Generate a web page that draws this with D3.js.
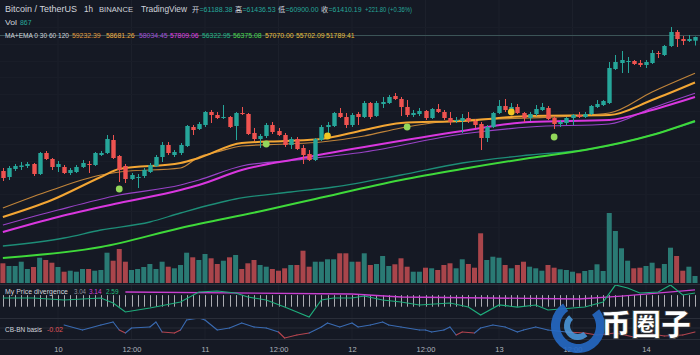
<!DOCTYPE html>
<html><head><meta charset="utf-8">
<script src="https://cdn.jsdelivr.net/npm/d3@7"></script>
<style>html,body{margin:0;padding:0;background:#151924;overflow:hidden}svg{display:block}</style>
</head><body><svg id="c" width="700" height="355"></svg>
<script>
// ---------- DATA ----------
const timeLabels = ["10","12:00","11","12:00","12","12:00","13","12:00","14"];
const timeLabelIdx = [9,21,33,45,57,69,81,93,105];

const opens = [53370,53010,53490,53610,53670,53790,53190,54450,54090,53610,53610,53250,53310,53610,53790,53730,54330,54450,55230,54270,53670,52890,52950,53070,53310,53670,54210,54930,54330,54450,54870,56010,55890,56130,56910,56730,56550,56610,56070,56850,56790,55650,55290,55470,56130,55770,55530,54930,55290,54750,54390,54030,55230,56010,56070,56850,56610,56130,56790,56610,57450,56670,57390,57450,57870,57690,57210,56730,56790,56970,56550,57090,56910,56550,56370,56370,56550,56370,56190,55350,56010,56850,57270,57030,57210,56850,56550,56790,57030,57150,56550,56190,56250,56550,56730,56610,56790,57210,57330,57450,59490,59850,59910,59970,59850,59730,59850,60450,60330,60870,61710,61290,61170,61188.38];
const highs = [53550,53670,53790,53910,53910,53850,54510,54570,54150,53970,53730,53550,53730,54030,53970,54510,54570,55530,55530,54330,53790,53250,53190,53550,53850,54330,55110,55110,54630,55050,56130,56130,56310,56970,57030,56910,57330,56670,56910,57210,56850,55950,55590,56250,56310,55950,55650,55410,55410,54930,54630,55350,56130,56310,56910,57150,56850,56850,56910,57570,57510,57570,57810,57930,58050,57810,57630,57030,57150,57030,57150,57390,57030,56910,56610,56790,56910,56490,56310,56130,56910,57630,57690,57450,57390,56910,56910,57330,57450,57270,56670,56430,56610,56790,56910,56910,57330,57630,57630,59910,60330,60570,60210,60030,60030,60030,60630,60570,60930,62010,61830,61470,61530,61436.53];
const lows = [52770,52830,53370,53430,53550,53070,53130,54030,53430,53310,53190,53130,53250,53550,53250,53670,54270,54390,54090,52710,52650,52830,52350,52950,53250,53610,53910,54330,54210,54330,54810,55530,55830,56010,56250,56490,56490,55950,55230,56730,55530,55170,54750,55350,55590,55470,54810,54690,54630,53790,53970,53970,55170,55530,56010,56550,55950,56010,56130,56550,56490,56610,57150,57390,57630,56670,56610,56610,56670,56430,56490,56850,56430,56130,56250,55650,56250,55950,54630,55110,55950,56790,56910,56850,56790,56310,56370,56670,56970,56430,55890,56010,56130,56130,56550,56550,56730,57150,57270,57390,59430,59250,59250,59730,59610,59550,59790,60150,60270,60810,60810,60930,61110,60900];
const closes = [52950,53550,53670,53700,53790,53190,54450,54090,53610,53790,53250,53430,53610,53850,53730,54450,54450,55290,54150,53430,52890,53130,53010,53430,53730,54210,54930,54450,54510,54930,56070,55830,56190,56910,56730,56550,56610,56010,56850,56790,55590,55290,55470,56130,55710,55530,54930,55290,54690,54330,54030,55290,56010,56130,56850,56610,56130,56730,56610,57450,56610,57450,57510,57810,57690,57210,56730,56850,56970,56550,57090,56910,56550,56310,56430,56550,56370,56130,55350,56010,56850,57270,57030,57210,56850,56550,56790,57090,57210,56490,56190,56310,56550,56730,56610,56790,57270,57390,57570,59550,59910,60030,59970,59790,59730,59910,60450,60390,60870,61710,61290,61170,61290,61410.19];
const volumes = [2443,2108,2108,2641,1736,1984,3137,2852,2517,1984,1401,1525,1401,1736,1736,1525,1612,3757,2765,4216,2641,1612,1736,1984,2356,1736,2641,2021,1823,2232,3757,3187,2852,3596,3063,2356,2765,3187,3472,1736,2443,2852,2232,2021,1736,1525,1823,2232,2232,4005,2021,2641,2641,2939,2939,3683,3683,2641,2641,3683,2232,2356,3348,2108,2319,3063,2021,1401,1401,1897,1823,1612,2232,2443,1823,2939,2356,1897,6163,2852,3261,3137,2232,1823,2232,2641,2021,1823,1525,2232,1897,1699,1612,1401,1203,1488,1612,2319,1488,8680,6448,4303,2765,1823,1897,2108,2517,1823,2356,4377,3348,1525,2021,867];

// moving-average lines (sampled at candle indices)
const emaFastIdx = [0,8,16,19,29,32,35,39,46,52,59,65,75,86,99,106,113];
const emaFastVal = [51150,52230,53130,53310,53550,54210,54510,54870,54990,55110,55470,55950,56430,56550,56850,58110,59232.39];
const maFastIdx = [0,8,16,19,29,32,39,46,52,59,65,75,86,99,106,113];
const maFastVal = [50610,51630,53010,53490,53850,54150,55050,55170,55290,55830,56250,56370,56670,56730,57630,58681.26];
const emaMidIdx = [0,9,19,29,32,39,48,59,75,86,99,106,113];
const emaMidVal = [50130,51030,51930,52530,52830,53670,54030,54510,55590,56010,56190,57150,58034.45];
const maMidIdx = [0,9,19,29,32,39,48,59,75,86,99,106,113];
const maMidVal = [49710,50610,51450,52230,52530,53430,54090,54810,55770,56310,56430,57030,57809.06];
const emaSlowIdx = [0,10,16,24,29,38,47,54,65,75,86,95,113];
const emaSlowVal = [48870,49350,49830,50310,50850,51690,52110,52410,53130,53850,54330,54630,56322.95];
const maSlowIdx = [0,16,29,43,51,65,75,86,95,106,113];
const maSlowVal = [48150,48810,49950,51030,51690,52830,53490,54150,54630,55530,56375.08];

const greenDotIdx = [19,43,66,90];
const greenDotPrice = [52290,54990,56010,55410];
const yellowDotIdx = [53,83];
const yellowDotPrice = [55470,56910];

// My Price divergence
const divIdx = [0,5,10,16,18,20,24,29,32,35,38,40,43,46,48,50,52,54,57,59,62,65,68,73,76,78,81,84,87,89,95,98,100,102,104,107,109,111,113];
const divVal = [1.68,1.68,1.32,1.68,0.77,-0.86,-0.14,0.95,2.77,2.95,2.59,1.86,1.32,0.04,-0.86,-1.77,1.32,1.68,1.68,2.04,1.32,0.95,0.41,0.77,0.04,-1.41,0.41,0.04,0.41,-0.50,0.04,0.95,4.04,3.50,2.59,2.77,4.04,2.23,2.59];
const divSigIdx = [20,57,65,94,101,113];
const divSigVal = [2.77,2.41,1.86,1.50,2.04,3.14];
const divBarRange = [0.1,2.2];

// CB-BN basis
const basisIdx = [10,13,16,18,19,20,21,24,25,26,28,29,30,32,33,35,37,39,41,43,45,46,48,50,52,53,55,57,58,60,62,63,65,68,69,70,72,73,74,75,77,78,80,82,84,85,87,89,92,95,97,100,103,106,108,111,113];
const basisVal = [0.12,0.02,0.12,0.18,0.02,-0.04,0.06,0.08,0.18,-0.02,-0.04,0.02,0.22,0.26,0.22,0.02,0.06,0.16,0.08,0.06,-0.02,-0.14,-0.08,-0.04,0.08,0.16,0.08,0.16,0.08,0.12,0.18,0.12,0.08,0.02,0.02,-0.02,0.02,0.08,-0.08,-0.02,-0.04,0.06,0.12,0.08,-0.02,0.02,0.08,0.02,-0.02,-0.04,-0.08,-0.04,-0.12,-0.06,-0.10,-0.08,-0.02];

const maLegendVals = ["59232.39","58681.26","58034.45","57809.06","56322.95","56375.08","57070.00","55702.09","51789.41"];
const maLegendColors = ["#e39a3b","#f2ad3f","#a34fd8","#e03ee2","#22b584","#4cd94c","#efbf38","#e8be3a","#e8be3a"];
const maLegendX = [72,106,139,170,202,233,265,296,326];

// ---------- DRAW ----------
const W = 700, H = 355;
const BG = "#151924", UP = "#26a69a", DOWN = "#ef5350";
const FONT = "'Liberation Sans', Arial, 'Noto Sans CJK SC', sans-serif";
const svg = d3.select("#c");
svg.append("rect").attr("width", W).attr("height", H).attr("fill", BG);

const N = opens.length;
const idx = d3.range(N);
const x = d3.scaleLinear().domain([9, 105]).range([58, 646]);
const y = d3.scaleLinear().domain([63630, 49230]).range([0, 240]);
const yVol = d3.scaleLinear().domain([0, 8680]).range([283, 213]);
const yDiv = d3.scaleLinear().domain([0, 4]).range([307.245, 285.245]);
const yBas = d3.scaleLinear().domain([-0.2, 0.3]).range([341, 316]);

const defs = svg.append("defs");
function clip(id, y0, y1) {
  defs.append("clipPath").attr("id", id).append("rect").attr("x", 0).attr("y", y0).attr("width", W).attr("height", y1 - y0);
}
clip("cMain", 0, 284); clip("cDiv", 285, 318); clip("cBas", 319, 339);

// grid
const grid = svg.append("g");
grid.selectAll("line.v").data(timeLabelIdx).join("line")
  .attr("x1", d => x(d)).attr("x2", d => x(d)).attr("y1", 0).attr("y2", 339)
  .attr("stroke", "#1c202b").attr("stroke-width", 1);
grid.selectAll("line.h").data(d3.range(50000, 63000, 1000)).join("line")
  .attr("x1", 0).attr("x2", W).attr("y1", d => Math.round(y(d)) + 0.5).attr("y2", d => Math.round(y(d)) + 0.5)
  .attr("stroke", "#191d28").attr("stroke-width", 1);

// panel separators
[284.5, 318.5, 339.5].forEach(v => svg.append("line").attr("x1", 0).attr("x2", W).attr("y1", v).attr("y2", v).attr("stroke", "#2a2e39"));

const main = svg.append("g").attr("clip-path", "url(#cMain)");

// volume
main.selectAll("rect.vol").data(idx).join("rect")
  .attr("x", i => x(i) - 2.5).attr("width", 5)
  .attr("y", i => yVol(volumes[i])).attr("height", i => yVol(0) - yVol(volumes[i]))
  .attr("fill", i => closes[i] >= opens[i] ? "#2a7a74" : "#a9454b");

// price line
main.append("line").attr("x1", 0).attr("x2", W)
  .attr("y1", y(closes[N - 1]) - 1.5).attr("y2", y(closes[N - 1]) - 1.5)
  .attr("stroke", "#3d5559").attr("stroke-width", 1);

// MA lines
const lineGen = d3.line().x(d => x(d[0])).y(d => y(d[1])).curve(d3.curveMonotoneX);
function drawMA(ix, vals, color, width, op) {
  main.append("path").datum(ix.map((k, j) => [k, vals[j]])).attr("d", lineGen)
    .attr("fill", "none").attr("stroke", color).attr("stroke-width", width).attr("stroke-opacity", op);
}
drawMA(emaSlowIdx, emaSlowVal, "#1d8d77", 1.3, 1);
drawMA(maSlowIdx, maSlowVal, "#3fd93a", 2, 1);
drawMA(emaMidIdx, emaMidVal, "#9842c6", 1.2, 1);
drawMA(maMidIdx, maMidVal, "#d937df", 2, 1);
drawMA(emaFastIdx, emaFastVal, "#c0843a", 1.2, 1);
drawMA(maFastIdx, maFastVal, "#f3a634", 2, 1);

// candles
const cg = main.append("g");
cg.selectAll("line.wick").data(idx).join("line")
  .attr("x1", i => Math.round(x(i)) + 0.5).attr("x2", i => Math.round(x(i)) + 0.5)
  .attr("y1", i => y(highs[i])).attr("y2", i => y(lows[i]))
  .attr("stroke", i => closes[i] >= opens[i] ? UP : DOWN).attr("stroke-width", 1);
cg.selectAll("rect.body").data(idx).join("rect")
  .attr("x", i => Math.round(x(i)) + 0.5 - 2.2).attr("width", 4.4)
  .attr("y", i => y(Math.max(opens[i], closes[i])))
  .attr("height", i => Math.max(1, Math.abs(y(opens[i]) - y(closes[i]))))
  .attr("fill", i => closes[i] >= opens[i] ? UP : DOWN);

// markers
main.selectAll("circle.g").data(greenDotIdx).join("circle")
  .attr("cx", (d, j) => x(d)).attr("cy", (d, j) => y(greenDotPrice[j])).attr("r", 3.4).attr("fill", "#93d85a");
main.selectAll("circle.yl").data(yellowDotIdx).join("circle")
  .attr("cx", (d, j) => x(d)).attr("cy", (d, j) => y(yellowDotPrice[j])).attr("r", 3.4).attr("fill", "#f2c624");

// divergence panel
const dv = svg.append("g").attr("clip-path", "url(#cDiv)");
dv.selectAll("line.bar").data(idx).join("line")
  .attr("x1", i => Math.round(x(i)) + 0.5).attr("x2", i => Math.round(x(i)) + 0.5)
  .attr("y1", yDiv(divBarRange[1])).attr("y2", yDiv(divBarRange[0]))
  .attr("stroke", "#cfd0d4").attr("stroke-opacity", 0.8).attr("stroke-width", 1);
const dLine = d3.line().x(d => x(d[0])).y(d => yDiv(d[1]));
dv.append("path").datum(divSigIdx.map((k, j) => [k, divSigVal[j]])).attr("d", dLine)
  .attr("fill", "none").attr("stroke", "#c93fd0").attr("stroke-width", 1.3);
dv.append("path").datum(divIdx.map((k, j) => [k, divVal[j]])).attr("d", dLine)
  .attr("fill", "none").attr("stroke", "#1fae7c").attr("stroke-width", 1.2);

// basis panel
const bs = svg.append("g").attr("clip-path", "url(#cBas)");
bs.append("line").attr("x1", 0).attr("x2", W).attr("y1", yBas(0) - 3).attr("y2", yBas(0) - 3)
  .attr("stroke", "#262a35").attr("stroke-width", 1);
const segs = d3.range(basisIdx.length - 1);
bs.selectAll("line.seg").data(segs).join("line")
  .attr("x1", j => x(basisIdx[j])).attr("y1", j => yBas(basisVal[j]))
  .attr("x2", j => x(basisIdx[j + 1])).attr("y2", j => yBas(basisVal[j + 1]))
  .attr("stroke", j => (basisVal[j] + basisVal[j + 1]) / 2 < 0 ? "#b4454f" : "#3a6bb2")
  .attr("stroke-width", 1.1).attr("stroke-linecap", "round");

// time axis
const axis = d3.axisBottom(x).tickValues(timeLabelIdx).tickFormat((d, i) => timeLabels[i]).tickSize(0).tickPadding(4);
const ag = svg.append("g").attr("transform", "translate(0,343)").call(axis);
ag.select(".domain").remove();
ag.selectAll("text").attr("fill", "#b2b5be").attr("font-size", "7.5px").attr("font-family", FONT);

// ---------- TEXT ----------
const T = svg.append("g").attr("font-family", FONT);
function txt(s, xx, yy, color, size, len) {
  const t = T.append("text").attr("x", xx).attr("y", yy).attr("fill", color).attr("font-size", size + "px").text(s);
  if (len) t.attr("textLength", len).attr("lengthAdjust", "spacingAndGlyphs");
  return t;
}
const LT = "#d1d4dc";
txt("Bitcoin / TetherUS", 5, 11.5, LT, 9, 72);
txt("1h", 84, 11.5, LT, 9, 9);
txt("BINANCE", 99, 11.5, LT, 8, 34);
txt("TradingView", 141, 11.5, LT, 8.4, 46);
const ohlcLab = ["开", "高", "低", "收"];
const ohlcVal = ["=61188.38", "=61436.53", "=60900.00", "=61410.19"];
const ohlcLabX = [192, 235, 278, 321];
ohlcLab.forEach((s, j) => {
  txt(s, ohlcLabX[j], 11.5, LT, 7.2);
  txt(ohlcVal[j], ohlcLabX[j] + 7.5, 11.5, UP, 7.2, 33);
});
txt("+221.80 (+0.36%)", 365, 11.5, UP, 7.2, 47);

txt("Vol", 5, 24.5, LT, 7.5, 12);
txt("867", 20, 24.5, UP, 7.5, 11.5);

txt("MA+EMA 0 30 60 120", 5, 37.5, LT, 6.6, 64);
maLegendVals.forEach((s, j) => txt(s, maLegendX[j], 37.5, maLegendColors[j], 7, 28.5));

txt("My Price divergence", 5, 293.5, LT, 7, 63);
txt("3.04", 74, 293.5, "#8f929b", 7, 12);
txt("3.14", 89, 293.5, "#d43fd8", 7, 12.5);
txt("2.59", 106, 293.5, "#22c07f", 7, 12.5);

txt("CB-BN basis", 5, 332, LT, 7.2, 37);
txt("-0.02", 47, 332, "#e0545a", 7.2, 16);

// ---------- WATERMARK ----------
const wm = svg.append("g");
const arcOuter = d3.arc().innerRadius(18).outerRadius(27).startAngle(0.9).endAngle(5.7);
const arcInner = d3.arc().innerRadius(8).outerRadius(14).startAngle(2.4).endAngle(5.6);
wm.append("path").attr("d", arcOuter).attr("transform", "translate(578,326)").attr("fill", "#2569c4").attr("fill-opacity", 0.9);
wm.append("path").attr("d", arcInner).attr("transform", "translate(578,326)").attr("fill", "#4b9ce3").attr("fill-opacity", 0.85);
wm.append("text").attr("x", 601).attr("y", 335).attr("font-family", "'Noto Sans CJK SC', sans-serif")
  .attr("font-size", "30px").attr("font-weight", 900).attr("fill", "#ffffff")
  .attr("stroke", "#2a2a2a").attr("stroke-width", 0.6).text("币圈子");
</script>
</body></html>
